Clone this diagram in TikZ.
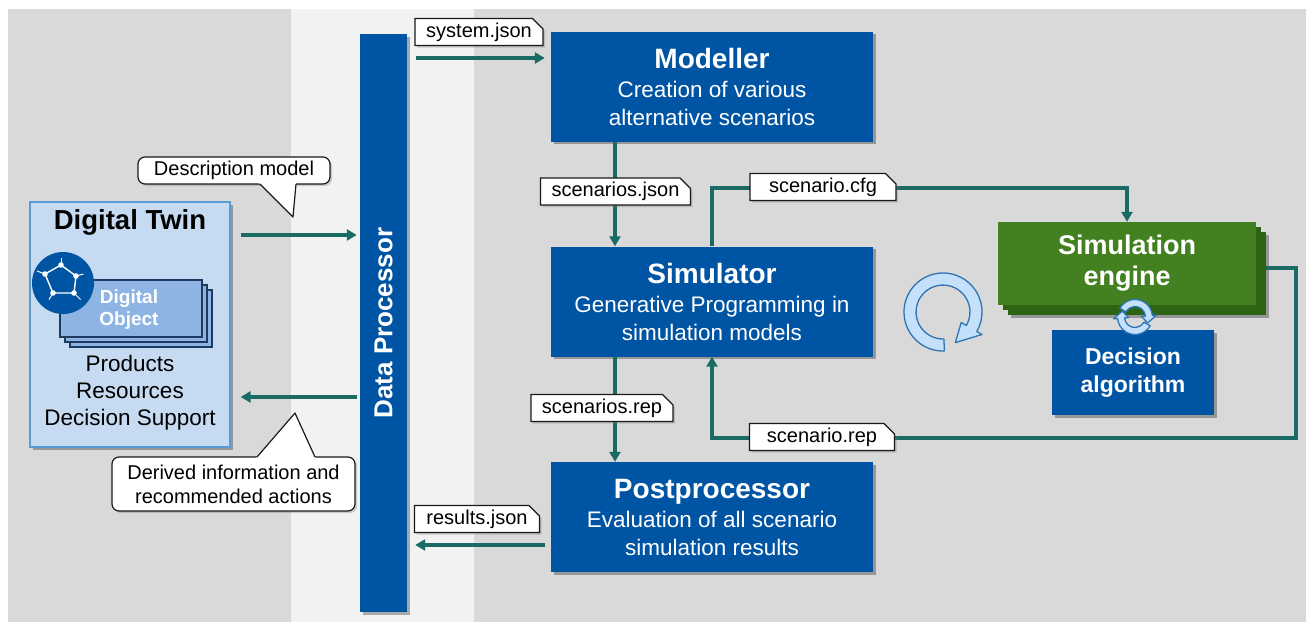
\documentclass[tikz,border=0pt]{standalone}
\usepackage{fontspec}
\setmainfont{Liberation Sans}
\usetikzlibrary{arrows.meta,shapes.misc,shadows,calc}
\definecolor{bggray}{HTML}{D9D9D9}
\definecolor{bandgray}{HTML}{F2F2F2}
\definecolor{boxblue}{HTML}{0054A4}
\definecolor{connteal}{HTML}{1B6B65}
\definecolor{engreen}{HTML}{43801F}
\definecolor{engreendark}{HTML}{2C6414}
\definecolor{dtfill}{HTML}{C6DBF1}
\definecolor{dtborder}{HTML}{5B9BD5}
\definecolor{dofill}{HTML}{8DB4E2}
\definecolor{doborder}{HTML}{1F3A60}
\definecolor{cycfill}{HTML}{C5E0FA}
\definecolor{cycline}{HTML}{2E75B6}
\newcommand\cycarrow[6]{%
  \path[cycstyle] ({#1}:{#4+#5}) arc[start angle=#1,end angle=#2,radius=#4+#5]
    -- ({#2}:{#4+#6}) -- ({#3}:{#4}) -- ({#2}:{#4-#6}) -- ({#2}:{#4-#5})
    arc[start angle=#2,end angle=#1,radius=#4-#5] -- cycle;}
\begin{document}
\begin{tikzpicture}[x=1pt,y=-1pt,
  shad/.style={drop shadow={shadow xshift=2.5pt,shadow yshift=-2.5pt,opacity=0.3,fill=black}},
  bluebox/.style={fill=boxblue,text=white,align=center,minimum width=322pt,minimum height=110pt,inner sep=0pt,shad,font=\fontsize{22.5}{28}\selectfont},
  engback/.style={fill=engreendark,minimum width=258pt,minimum height=83pt,inner sep=0pt},
  conn/.style={draw=connteal,line width=3.2pt},
  arr/.style={conn,-{Triangle[length=10pt,width=11pt]}},
  doclabel/.style={chamfered rectangle,chamfered rectangle corners=north east,chamfered rectangle xsep=7pt,draw=black!90,line width=1.2pt,fill=white,minimum height=27pt,inner xsep=4pt,inner ysep=0pt,font=\fontsize{20}{24}\selectfont,drop shadow={shadow xshift=2pt,shadow yshift=-2pt,opacity=0.35}},
  callbox/.style={draw=black!90,line width=1.2pt,fill=white,rounded corners=7pt,drop shadow={shadow xshift=2pt,shadow yshift=-2pt,opacity=0.35}},
  cycstyle/.style={fill=cycfill,draw=cycline,line width=1.3pt,line join=round},
  stackbox/.style={fill=dofill,draw=doborder,line width=1.3pt,minimum width=142pt,minimum height=57pt,inner sep=0pt}]
\useasboundingbox (0,0) rectangle (1306,622);
\fill[white] (0,0) rectangle (1306,622);
\fill[bggray] (8,9) rectangle (1306,622);
\fill[bandgray] (291,9) rectangle (474,622);

% Data processor
\node[bluebox,minimum width=47pt,minimum height=578pt] (dp) at (383.5,323) {};
\node[rotate=90,text=white,font=\bfseries\fontsize{26}{30}\selectfont] (dptext) at (dp.center) {Data Processor};

% main blue boxes
\node[bluebox] (mod) at (712,86.5) {{\bfseries\fontsize{28}{30}\selectfont Modeller}\\[1pt]Creation of various\\alternative scenarios};
\node[bluebox] (sim) at (712,301.5) {{\bfseries\fontsize{28}{30}\selectfont Simulator}\\[1pt]Generative Programming in\\simulation models};
\node[bluebox] (post) at (712,517) {{\bfseries\fontsize{28}{30}\selectfont Postprocessor}\\[1pt]Evaluation of all scenario\\simulation results};

% simulation engine stack
\node[engback,shad] (eng2) at (1137,273.5) {};
\node[engback] (eng1) at (1132,268.5) {};
\node[fill=engreen,minimum width=258pt,minimum height=83pt,inner sep=0pt,text=white,align=center,font=\bfseries\fontsize{27}{31}\selectfont] (eng) at (1127,263.5) {Simulation\\engine};
\node[bluebox,minimum width=162pt,minimum height=85pt,font=\bfseries\fontsize{23}{28}\selectfont] (dec) at (1133,372.5) {Decision\\algorithm};

% Digital twin
\node[fill=dtfill,draw=dtborder,line width=1.2pt,minimum width=200pt,minimum height=245pt,shad] (dt) at (130,324.5) {};
\node[font=\bfseries\fontsize{27.5}{30}\selectfont] (dttitle) at (130,222) {Digital Twin};
\node[align=center,font=\fontsize{22.5}{27}\selectfont] (dtbody) at (130,393) {Products\\Resources\\Decision Support};
\node[stackbox] (dob2) at (141,318.5) {};
\node[stackbox] (dob1) at (136,313.5) {};
\node[stackbox] (dob) at (131,308.5) {};
\fill[boxblue] (63,283) circle[radius=31pt];
\node[text=white,align=center,font=\bfseries\fontsize{19}{22}\selectfont] (dobtext) at (129,310) {Digital\\Object};
\coordinate (pc) at (61,280);
\coordinate (p1) at (61,265);
\coordinate (p2) at (76,276);
\coordinate (p3) at (74,293);
\coordinate (p4) at (53,293);
\coordinate (p5) at (45,274);
\draw[white,line width=1.4pt] (p1)--(p2)--(p3)--(p4)--(p5)--cycle;
\foreach \p in {p1,p2,p3,p4,p5}{
  \draw[white,line width=1pt] (\p) -- ($(pc)!1.5!(\p)$);
  \fill[white] (\p) circle[radius=2.8pt];}

% connectors
\coordinate (yin) at (0,235);
\coordinate (yout) at (0,397);
\coordinate (ysys) at (0,58);
\coordinate (yres) at (0,545);
\coordinate (xdown) at (615,0);
\coordinate (cfgy) at (900,188);
\coordinate (repc) at (1296,438);
\coordinate (repy) at (0,268);
\draw[arr,shorten <=10pt,shorten >=3pt] (dt.east |- yin) -- (dp.west |- yin);
\draw[arr,shorten <=3pt,shorten >=10pt] (dp.west |- yout) -- (dt.east |- yout);
\draw[arr,shorten <=9pt,shorten >=6pt] (dp.east |- ysys) -- (mod.west |- ysys);
\draw[arr,shorten <=6pt,shorten >=8pt] (post.west |- yres) -- (dp.east |- yres);
\draw[arr] (mod.south -| xdown) -- (sim.north -| xdown);
\draw[arr] (sim.south -| xdown) -- (post.north -| xdown);
\draw[arr] (sim.north) |- (cfgy) -| (eng.north);
\draw[arr] (eng2.east |- repy) -| (repc) -| (sim.south);

% cycle arrows
\begin{scope}[shift={(943,312)},yscale=-1]
  \cycarrow{272}{-30}{-68}{33}{6}{12}
\end{scope}
\begin{scope}[shift={(1135,317)},yscale=-1]
  \cycarrow{150}{5}{-25}{14}{3.5}{7.5}
  \cycarrow{-30}{-175}{-205}{14}{3.5}{7.5}
\end{scope}

% file labels
\node[doclabel,minimum width=128pt] (lsys) at (479,32) {system.json};
\node[doclabel,minimum width=146pt] (lscj) at (615.5,191.5) {scenarios.json};
\node[doclabel,minimum width=146pt] (lcfg) at (823,187) {scenario.cfg};
\node[doclabel,minimum width=120pt] (lscr) at (602,408) {scenarios.rep};
\node[doclabel,minimum width=145pt] (lrep) at (822,437) {scenario.rep};
\node[doclabel,minimum width=125pt] (lres) at (477,519) {results.json};

% callouts
\path[callbox] (138,157) rectangle (330,184);
\fill[white] (257,181) -- (296.3,181) -- (293,217) -- cycle;
\draw[black!90,line width=1.2pt,line join=round] (260,184) -- (293,217) -- (296,184);
\node[font=\fontsize{20}{24}\selectfont] (cdesc) at (234,170.5) {Description model};
\path[callbox] (112,457) rectangle (355,511);
\fill[white] (254.4,460) -- (316.4,460) -- (295,413) -- cycle;
\draw[black!90,line width=1.2pt,line join=round] (257,457) -- (295,413) -- (315,457);
\node[align=center,font=\fontsize{20}{24}\selectfont] (cder) at (233.5,484) {Derived information and\\recommended actions};
\end{tikzpicture}
\end{document}
